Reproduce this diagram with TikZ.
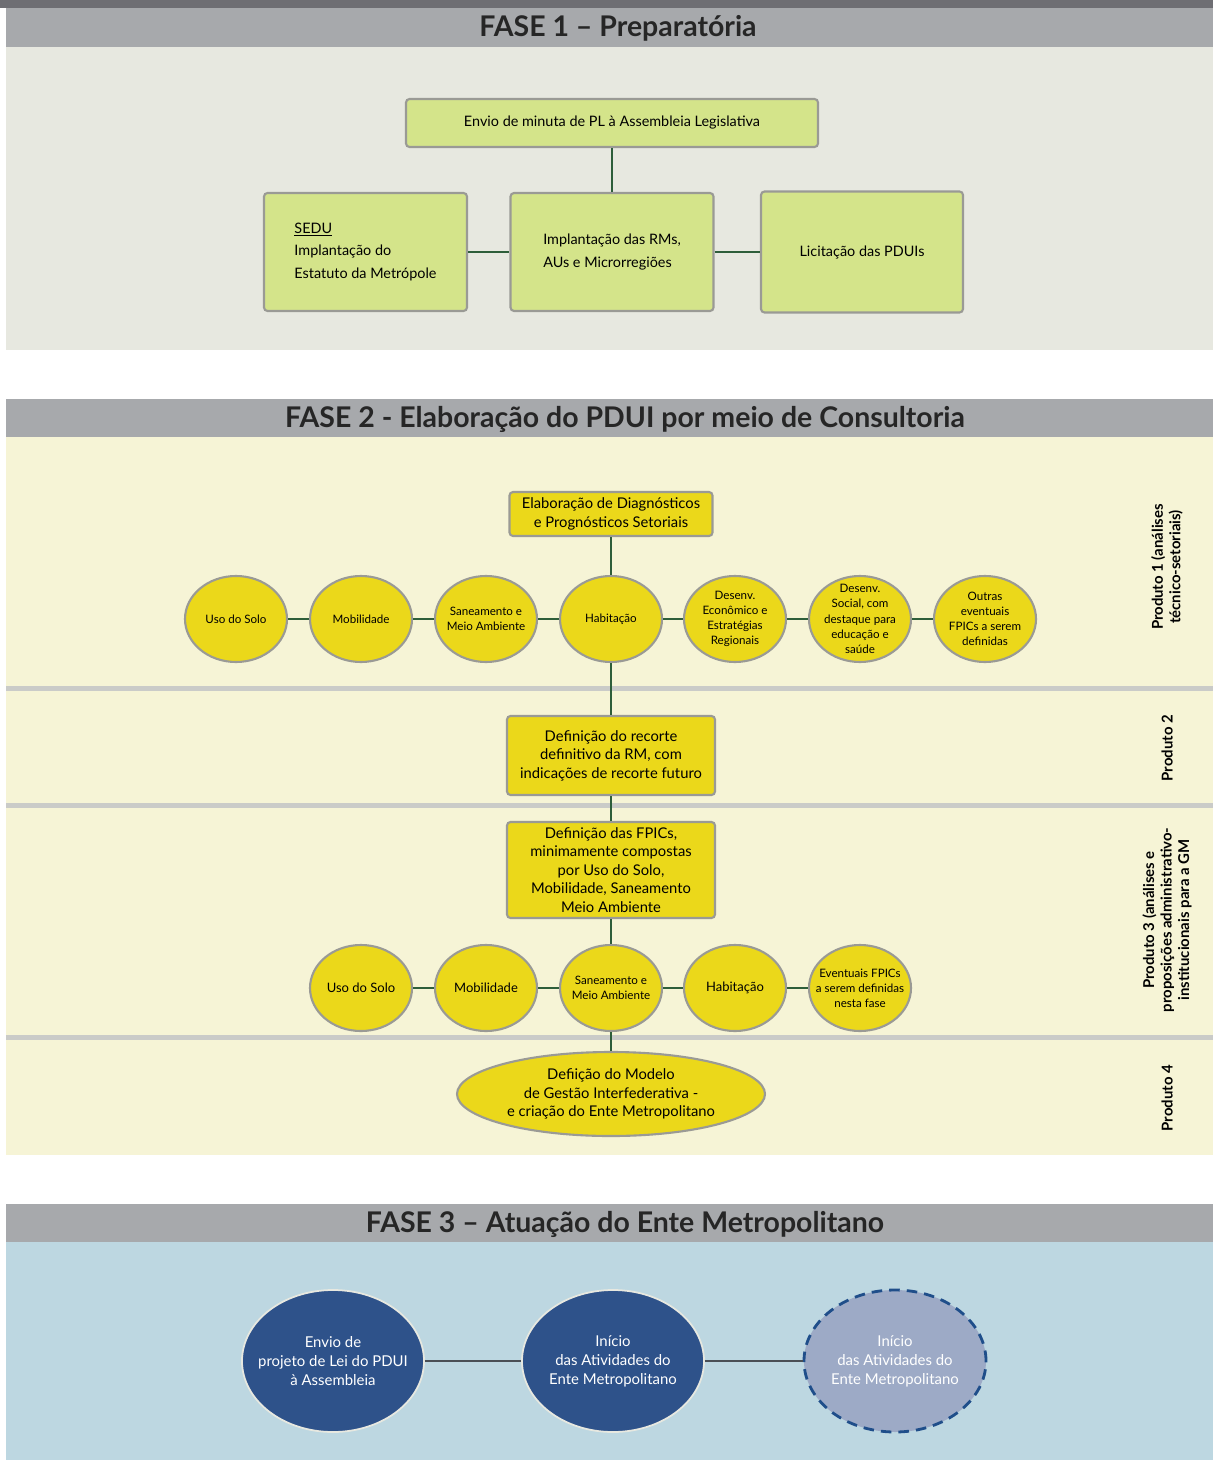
\documentclass[tikz,border=0pt]{standalone}
\usepackage{fontspec}
\setmainfont{Lato}
\usetikzlibrary{shapes.geometric}

\definecolor{topbar}{HTML}{6E6E73}
\definecolor{headgray}{HTML}{A7A9AC}
\definecolor{faseumbg}{HTML}{E7E8E0}
\definecolor{fasedoisbg}{HTML}{F6F4D6}
\definecolor{fasetresbg}{HTML}{BDD7E1}
\definecolor{lightgreen}{HTML}{D4E48A}
\definecolor{yellowfill}{HTML}{EBD81A}
\definecolor{linegreen}{HTML}{2E5E3A}
\definecolor{bordergray}{HTML}{9A9A95}
\definecolor{darkblue}{HTML}{2E528A}
\definecolor{paleblue}{HTML}{9DAAC6}
\definecolor{dashblue}{HTML}{1F4E8A}
\definecolor{sepgray}{HTML}{CACBC8}
\definecolor{linegray}{HTML}{4A4F55}

\begin{document}
\begin{tikzpicture}[x=0.2mm,y=-0.2mm,
  header/.style={font=\fontsize{16.2}{19}\selectfont\bfseries,text=black!85},
  greenbox/.style={draw=bordergray,line width=1.2pt,fill=lightgreen,rounded corners=2pt,align=center,font=\fontsize{8.2}{13}\selectfont,inner sep=2pt},
  yellowbox/.style={draw=bordergray,line width=1.2pt,fill=yellowfill,rounded corners=2pt,align=center,font=\fontsize{8.4}{10.5}\selectfont,inner sep=2pt},
  yellowcirc/.style={ellipse,draw=bordergray,line width=1.2pt,fill=yellowfill,minimum width=20.4mm,minimum height=17.2mm,inner xsep=-7pt,inner ysep=-5pt,align=center,font=\fontsize{6.6}{8.6}\selectfont},
  bluecirc/.style={ellipse,fill=darkblue,draw=faseumbg,line width=1pt,minimum width=36.4mm,minimum height=28.4mm,inner xsep=-8pt,inner ysep=-4pt,align=center,text=white,font=\fontsize{8.5}{10.8}\selectfont},
  conn/.style={linegreen,line width=1.2pt},
  product/.style={rotate=90,align=center,font=\fontsize{8.5}{10}\selectfont\bfseries}]

\useasboundingbox (0,0) rectangle (1213,1460);
\fill[white] (0,0) rectangle (1213,1460);

% fase 1
\fill[topbar] (0,0) rectangle (1213,8);
\fill[headgray] (6,8) rectangle (1213,47);
\fill[faseumbg] (6,47) rectangle (1213,350);
\node[header] (fase1) at (618,28) {FASE 1 – Preparatória};

\node[greenbox,minimum width=82.4mm,minimum height=9.6mm] (envio) at (612,123) {Envio de minuta de PL à Assembleia Legislativa};
\node[greenbox,minimum width=40.6mm,minimum height=23.6mm,align=left] (sedu) at (365.5,252) {\underline{SEDU}\\Implantação do\\Estatuto da Metrópole};
\node[greenbox,minimum width=40.6mm,minimum height=23.6mm,align=left] (implant) at (612,252) {Implantação das RMs,\\AUs e Microrregiões};
\node[greenbox,minimum width=40.4mm,minimum height=24.2mm] (licit) at (862,252) {Licitação das PDUIs};

\draw[conn] (envio) -- (implant);
\draw[conn] (sedu) -- (implant);
\draw[conn] (implant) -- (licit);

% fase 2
\fill[headgray] (6,399) rectangle (1213,437);
\fill[fasedoisbg] (6,437) rectangle (1213,1155);
\node[header] (fase2) at (625,419) {FASE 2 - Elaboração do PDUI por meio de Consultoria};
\fill[sepgray] (6,686) rectangle (1213,691);
\fill[sepgray] (6,803) rectangle (1213,808);
\fill[sepgray] (6,1035) rectangle (1213,1040);

\node[yellowbox,minimum width=40.6mm,minimum height=8.8mm] (elab) at (611,514) {Elaboração de Diagnósticos\\e Prognósticos Setoriais};

\node[yellowcirc] (uso1) at (236,619) {Uso do Solo};
\node[yellowcirc] (mob1) at (361,619) {Mobilidade};
\node[yellowcirc] (san1) at (486,619) {Saneamento e\\Meio Ambiente};
\node[yellowcirc] (hab1) at (611,619) {Habitação};
\node[yellowcirc] (econ1) at (735,619) {Desenv.\\Econômico e\\Estratégias\\Regionais};
\node[yellowcirc] (soc1) at (860,619) {Desenv.\\Social, com\\destaque para\\educação e\\saúde};
\node[yellowcirc] (outras1) at (985,619) {Outras\\eventuais\\FPICs a serem\\definidas};

\draw[conn] (uso1) -- (mob1) -- (san1) -- (hab1) -- (econ1) -- (soc1) -- (outras1);

\node[yellowbox,minimum width=41.6mm,minimum height=15.8mm] (recorte) at (611,755.5) {Definição do recorte\\definitivo da RM, com\\indicações de recorte futuro};
\node[yellowbox,minimum width=41.6mm,minimum height=19.2mm] (fpics) at (611,870) {Definição das FPICs,\\minimamente compostas\\por Uso do Solo,\\Mobilidade, Saneamento\\Meio Ambiente};

\node[yellowcirc] (uso2) at (361,988) {\fontsize{7.4}{9}\selectfont Uso do Solo};
\node[yellowcirc] (mob2) at (486,988) {\fontsize{7.4}{9}\selectfont Mobilidade};
\node[yellowcirc] (san2) at (611,988) {Saneamento e\\Meio Ambiente};
\node[yellowcirc] (hab2) at (735,988) {\fontsize{7.4}{9}\selectfont Habitação};
\node[yellowcirc] (event2) at (860,988) {Eventuais FPICs\\a serem definidas\\nesta fase};

\draw[conn] (uso2) -- (mob2) -- (san2) -- (hab2) -- (event2);

\node[yellowcirc,minimum width=61.6mm,minimum height=16.8mm,font=\fontsize{8.4}{10.5}\selectfont] (modelo) at (611,1094) {Defiição do Modelo\\de Gestão Interfederativa -\\e criação do Ente Metropolitano};

\draw[conn] (elab) -- (hab1);
\draw[conn] (hab1) -- (recorte);
\draw[conn] (recorte) -- (fpics);
\draw[conn] (fpics) -- (san2);
\draw[conn] (san2) -- (modelo);

\node[product] (prod1) at (1167,567) {Produto 1 (análises\\técnico-setoriais)};
\node[product] (prod2) at (1167,748) {Produto 2};
\node[product] (prod3) at (1167,920) {Produto 3 (análises e\\proposições administrativo-\\institucionais para a GM};
\node[product] (prod4) at (1167,1098) {Produto 4};

% fase 3
\fill[headgray] (6,1204) rectangle (1213,1242);
\fill[fasetresbg] (6,1242) rectangle (1213,1460);
\node[header] (fase3) at (625,1224) {FASE 3 – Atuação do Ente Metropolitano};

\node[bluecirc] (projeto) at (333,1361) {Envio de\\projeto de Lei do PDUI\\à Assembleia};
\node[bluecirc] (inicio) at (613,1361) {Início\\das Atividades do\\Ente Metropolitano};
\node[bluecirc,fill=paleblue,draw=dashblue,dashed,line width=1.6pt,dash pattern=on 6pt off 4pt] (inicio2) at (895,1361) {Início\\das Atividades do\\Ente Metropolitano};

\draw[linegray,line width=1.1pt] (projeto) -- (inicio);
\draw[linegray,line width=1.1pt] (inicio) -- (inicio2);
\end{tikzpicture}
\end{document}
